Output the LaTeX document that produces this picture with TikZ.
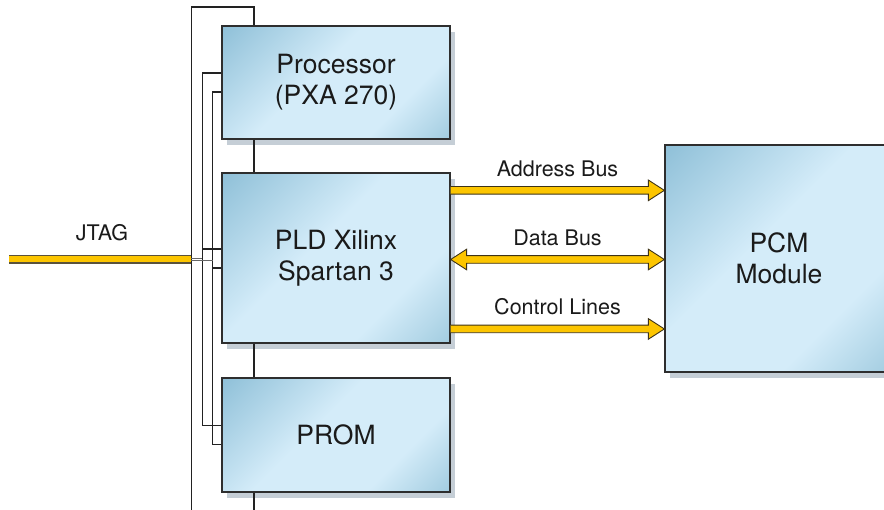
\documentclass[tikz,border=0pt]{standalone}
\usepackage{fontspec}
\setmainfont{TeX Gyre Heros}
\usetikzlibrary{calc,shadows}
\definecolor{boxdark}{HTML}{8FC0D8}
\definecolor{boxlight}{HTML}{D4ECF9}
\definecolor{boxmid}{HTML}{A2CCE0}
\definecolor{shadowc}{HTML}{C5CED6}
\definecolor{edgec}{HTML}{2E2E2E}
\definecolor{busy}{HTML}{FCC500}
\definecolor{busedge}{HTML}{3D3318}
\definecolor{txt}{HTML}{1A1A1A}
\definecolor{wirec}{HTML}{222222}
\pgfdeclarehorizontalshading{boxshade}{100bp}{color(0bp)=(boxdark); color(14.6bp)=(boxdark); color(44bp)=(boxlight); color(68bp)=(boxlight); color(85.4bp)=(boxmid); color(100bp)=(boxmid)}
\newcommand{\busR}[2]{%
  \filldraw[bus] ($(#1)+(0,-3.8)$) -- ($(#2)+(-16,-3.8)$) -- ($(#2)+(-16,-10.3)$) -- (#2) -- ($(#2)+(-16,10.3)$) -- ($(#2)+(-16,3.8)$) -- ($(#1)+(0,3.8)$);}
\newcommand{\busLR}[2]{%
  \filldraw[bus] (#1) -- ($(#1)+(16,-10.3)$) -- ($(#1)+(16,-3.8)$) -- ($(#2)+(-16,-3.8)$) -- ($(#2)+(-16,-10.3)$) -- (#2) -- ($(#2)+(-16,10.3)$) -- ($(#2)+(-16,3.8)$) -- ($(#1)+(16,3.8)$) -- ($(#1)+(16,10.3)$) -- cycle;}
\tikzset{
  blk/.style={draw=edgec, line width=1.3pt, shade, shading=boxshade, shading angle=-45,
    drop shadow={shadow xshift=5pt, shadow yshift=-6pt, fill=shadowc, opacity=1},
    inner sep=0pt, align=center, text=txt, font=\fontsize{26.5}{31}\selectfont,
    minimum width=228pt},
  lbl/.style={text=txt, font=\fontsize{21.5}{25}\selectfont, inner sep=0pt},
  wire/.style={draw=wirec, line width=1.1pt},
  bus/.style={fill=busy, draw=busedge, line width=0.9pt, line join=miter},
}
\begin{document}
\begin{tikzpicture}[x=1pt,y=-1pt]
\useasboundingbox (0,0) rectangle (884,510);
% blocks
\node[blk, minimum height=113pt] (proc) at (336,82.5) {Processor\\(PXA 270)};
\node[blk, minimum height=170pt] (pld) at (336,258) {PLD Xilinx\\Spartan 3};
\node[blk, minimum height=114pt] (prom) at (336,435) {PROM};
\node[blk, minimum height=227pt] (pcm) at (779,258.5) {PCM\\Module};
% wiring coordinates
\coordinate (topL) at (191.3,7);
\coordinate (topR) at (254,7);
\coordinate (botL) at (191.3,510);
\coordinate (botR) at (254,510);
\coordinate (c2) at (202.3,0);
\coordinate (c3) at (212.7,0);
\coordinate (p2) at ([yshift=9.5pt]proc.west);
\coordinate (p3) at ([yshift=-9.5pt]proc.west);
\coordinate (l2) at ([yshift=9pt]pld.west);
\coordinate (l3) at ([yshift=-10pt]pld.west);
\coordinate (r2) at ([yshift=9.5pt]prom.west);
\coordinate (r3) at ([yshift=-9.5pt]prom.west);
% outer loop and through line
\draw[wire] (botL) -- (topL) -- (topR) -- (topR |- proc.north);
\draw[wire] (topR |- proc.south) -- (topR |- pld.north);
\draw[wire] (topR |- pld.south) -- (topR |- prom.north);
\draw[wire] (topR |- prom.south) -- (botR);
% chain lines
\draw[wire] (p2) -- (p2 -| c2) -- (r2 -| c2) -- (r2);
\draw[wire] (l2 -| c2) -- (l2);
\draw[wire] (p3) -- (p3 -| c3) -- (r3 -| c3) -- (r3);
\draw[wire] (l3 -| c3) -- (l3);
% JTAG
\coordinate (jL) at (9,259.6);
\coordinate (jR) at (topL |- jL);
\coordinate (j2) at (191.3,258.3);
\coordinate (j3) at (191.3,260.8);
\draw[line width=8.6pt, color=busedge!85] (jL) -- (jR);
\draw[line width=6pt, color=busy] ([yshift=0.6pt]jL) -- ([yshift=0.6pt]jR);
\draw[draw=gray!80!black, line width=0.9pt] (j2) -- (j2 -| c2);
\draw[draw=gray!80!black, line width=0.9pt] (j3) -- (j3 -| c3);
\node[lbl, anchor=base] (jtag) at (102,240.7) {JTAG};
% buses
\coordinate (aS) at ([yshift=-18pt]pld.north east);
\coordinate (aE) at (pcm.west |- aS);
\coordinate (dS) at ([yshift=-1.5pt]pld.east);
\coordinate (dE) at (pcm.west |- dS);
\coordinate (cS) at ([yshift=14.7pt]pld.south east);
\coordinate (cE) at (pcm.west |- cS);
\busR{aS}{aE}
\busLR{dS}{dE}
\busR{cS}{cE}
\path (aS) -- (aE) node[lbl, midway, anchor=base, yshift=14.3pt] {Address Bus};
\path (dS) -- (dE) node[lbl, midway, anchor=base, yshift=13.5pt] {Data Bus};
\path (cS) -- (cE) node[lbl, midway, anchor=base, yshift=14.3pt] {Control Lines};
\end{tikzpicture}
\end{document}
